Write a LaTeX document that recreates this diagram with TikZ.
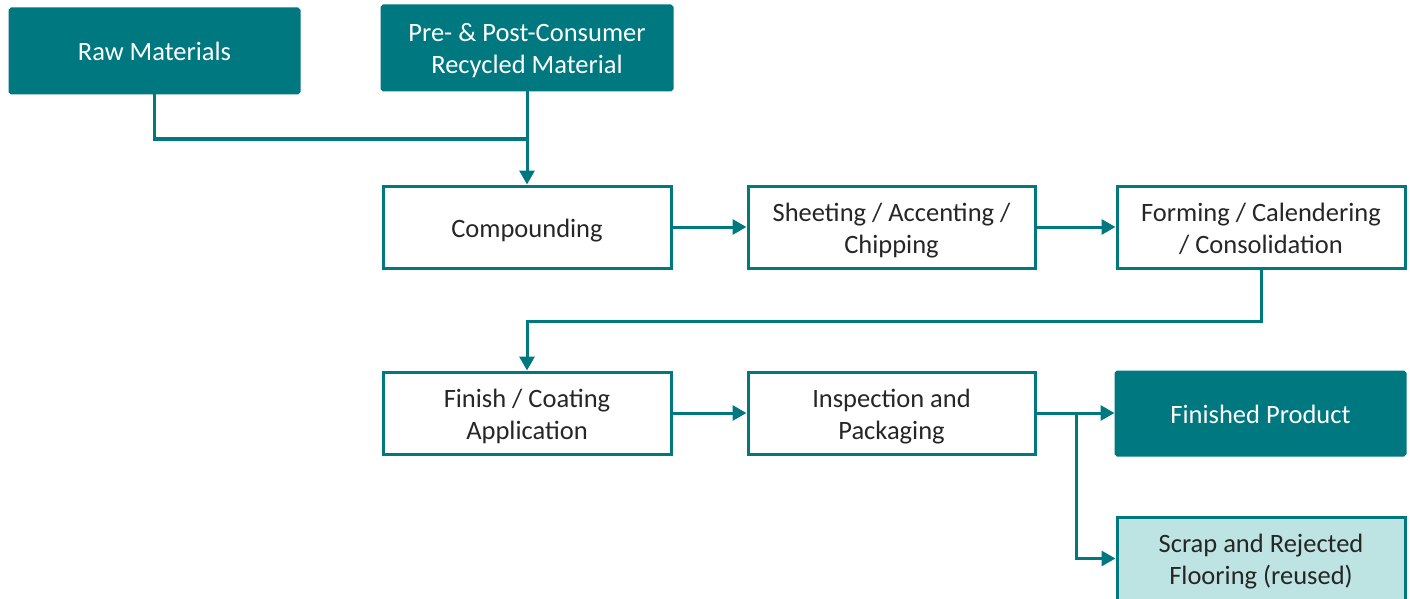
\documentclass[tikz,border=0pt]{standalone}
\usepackage{fontspec}
\setmainfont{Carlito}
\usetikzlibrary{arrows.meta}
\definecolor{teal}{HTML}{007880}
\definecolor{lightteal}{HTML}{BDE3E3}
\definecolor{txt}{HTML}{262626}
\newcommand{\st}{\rule[-6pt]{0pt}{32pt}}
\tikzset{
  base/.style={draw=teal, line width=3pt, inner sep=0pt, align=center, font=\fontsize{26.5}{32}\selectfont},
  filled/.style={base, fill=teal, text=white, rounded corners=1.5pt},
  plain/.style={base, fill=white, text=txt},
  light/.style={base, fill=lightteal, text=txt},
  conn/.style={draw=teal, line width=3pt, -{Triangle[length=14pt,width=15pt]}},
  line/.style={draw=teal, line width=3pt}
}
\newcommand{\bx}[7]{% name, style, x1, y1, x2, y2, text
  \node[#2, minimum width={#5-#3}, minimum height={#6-#4}] (#1) at ({(#3+#5)/2},{(#4+#6)/2}) {#7};}
\begin{document}
\begin{tikzpicture}[x=1pt,y=-1pt]
\useasboundingbox (0,0) rectangle (1410,599);
\bx{raw}{filled}{10}{9}{299}{93}{\st Raw Materials}
\bx{pre}{filled}{382}{6}{672}{90}{\st Pre- \& Post-Consumer\\\st Recycled Material}
\bx{comp}{plain}{383}{186}{671}{268}{\st Compounding}
\bx{sheet}{plain}{748}{186}{1035}{268}{\st Sheeting / Accenting /\\\st Chipping}
\bx{form}{plain}{1117}{186}{1405}{268}{\st Forming / Calendering\\\st / Consolidation}
\bx{fin}{plain}{383}{372}{671}{454}{\st Finish / Coating\\\st Application}
\bx{insp}{plain}{748}{372}{1035}{454}{\st Inspection and\\\st Packaging}
\bx{prod}{filled}{1116}{372}{1405}{455}{\st Finished Product}
\bx{scrap}{light}{1117}{517}{1405}{600}{\st Scrap and Rejected\\\st Flooring (reused)}
% connectors
\coordinate (j1) at (raw.south |- 0,139);
\coordinate (j2) at (comp.north |- 0,139);
\draw[line] (raw.south) -- (j1) -- (j2);
\draw[conn] (pre.south -| comp.north) -- (comp.north);
\draw[conn] (comp.east) -- (sheet.west);
\draw[conn] (sheet.east) -- (form.west);
\coordinate (j3) at (form.south |- 0,321);
\coordinate (j4) at (fin.north |- 0,321);
\draw[conn] (form.south) -- (j3) -- (j4) -- (fin.north);
\draw[conn] (fin.east) -- (insp.west);
\draw[conn] (insp.east) -- (prod.west |- insp.east);
\coordinate (b) at (1076,0);
\draw[conn] (b |- insp.east) -- (b |- scrap.west) -- (scrap.west);
\end{tikzpicture}
\end{document}
